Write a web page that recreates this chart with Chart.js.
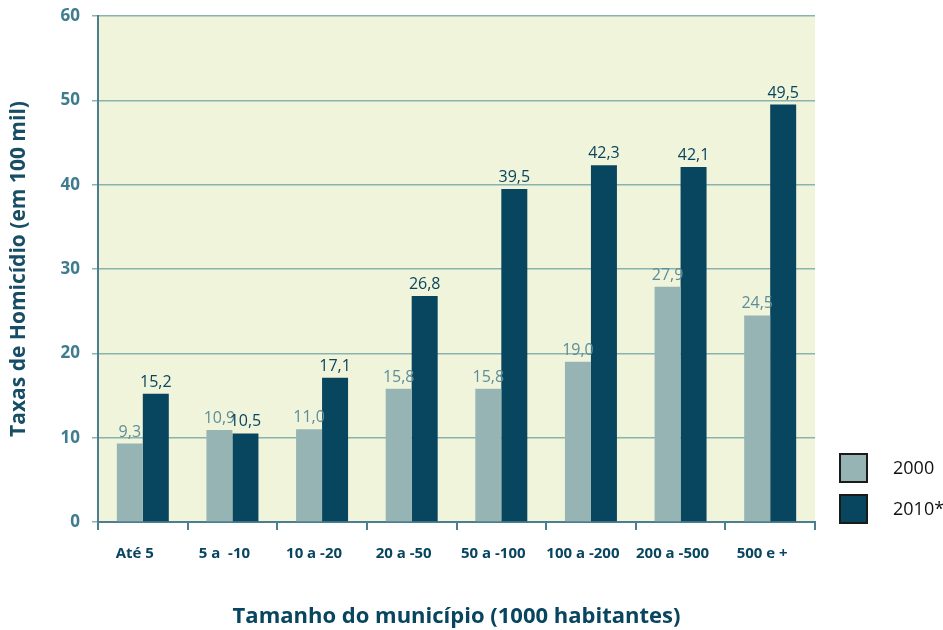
<!DOCTYPE html>
<html>
<head>
<meta charset="utf-8">
<script src="https://cdn.jsdelivr.net/npm/chart.js@4.4.1/dist/chart.umd.min.js"></script>
<style>
  html, body { margin: 0; padding: 0; background: #fff; }
  #wrap { position: relative; width: 943px; height: 630px; }
  .leg-box { position: absolute; left: 839px; width: 25px; height: 26px; border: 2px solid #1a1a1a; }
  .leg-text { position: absolute; left: 893px; font: 18px "Open Sans", sans-serif; color: #111; line-height: 20px; }
</style>
</head>
<body>
<div id="wrap">
  <canvas id="homicideChart" width="943" height="630"></canvas>
  <div class="leg-box" style="top:453px; background:#97b4b4;"></div>
  <div class="leg-text" style="top:457px;">2000</div>
  <div class="leg-box" style="top:494px; background:#08455f;"></div>
  <div class="leg-text" style="top:498px;">2010*</div>
</div>
<script>
const categories = ['Até 5', '5 a  -10', '10 a -20', '20 a -50', '50 a -100', '100 a -200', '200 a -500', '500 e +'];
const rates2000 = [9.3, 10.9, 11.0, 15.8, 15.8, 19.0, 27.9, 24.5];
const rates2010 = [15.2, 10.5, 17.1, 26.8, 39.5, 42.3, 42.1, 49.5];
const yTicks = [0, 10, 20, 30, 40, 50, 60];

const AXIS_COLOR = '#4b7f90';
const GRID_COLOR = '#8ab2ae';
const LABEL_COLORS = ['#5e8d99', '#08455f'];

// fill plot area and write the value above each bar
const barDecor = {
    id: 'barDecor',
    beforeDraw(chart) {
        const a = chart.chartArea;
        const c = chart.ctx;
        c.save();
        c.fillStyle = '#f0f4da';
        c.fillRect(a.left, a.top, a.right - a.left, a.bottom - a.top);
        c.restore();
    },
    afterDatasetsDraw(chart) {
        const c = chart.ctx;
        c.save();
        c.font = '16px "Open Sans", sans-serif';
        c.textAlign = 'center';
        c.textBaseline = 'alphabetic';
        chart.data.datasets.forEach((ds, i) => {
            c.fillStyle = LABEL_COLORS[i];
            chart.getDatasetMeta(i).data.forEach((bar, j) => {
                c.fillText(ds.data[j].toFixed(1).replace('.', ','), bar.x, bar.y - 7);
            });
        });
        c.restore();
    }
};

new Chart(document.getElementById('homicideChart'), {
    type: 'bar',
    data: {
        labels: categories,
        datasets: [
            { label: '2000', data: rates2000, backgroundColor: '#97b4b4' },
            { label: '2010*', data: rates2010, backgroundColor: '#08455f' }
        ]
    },
    options: {
        responsive: false,
        animation: false,
        layout: { padding: { left: 0, right: 128, top: 16, bottom: 0 } },
        categoryPercentage: 0.58,
        barPercentage: 1.0,
        scales: {
            x: {
                grid: {
                    offset: true,
                    drawOnChartArea: true,
                    color: ctx => ctx.index === categories.length ? AXIS_COLOR : 'rgba(0,0,0,0)',
                    lineWidth: 2,
                    tickColor: AXIS_COLOR,
                    tickLength: 8,
                    tickWidth: 2
                },
                border: { color: AXIS_COLOR, width: 2 },
                ticks: {
                    color: '#08455f',
                    font: { family: 'Open Sans', size: 15, weight: 'bold' },
                    padding: 15,
                    labelOffset: -8,
                    maxRotation: 0,
                    autoSkip: false
                },
                title: {
                    display: true,
                    text: 'Tamanho do município (1000 habitantes)',
                    color: '#08455f',
                    font: { family: 'Open Sans', size: 22, weight: 'bold' },
                    padding: { top: 30, bottom: 0 }
                },
                afterFit(scale) { scale.height = 108; }
            },
            y: {
                min: 0,
                max: 60,
                afterBuildTicks(scale) { scale.ticks = yTicks.map(v => ({ value: v })); },
                grid: {
                    color: GRID_COLOR,
                    lineWidth: 1.5,
                    tickColor: GRID_COLOR,
                    tickLength: 6
                },
                border: { color: AXIS_COLOR, width: 2 },
                ticks: {
                    color: '#3f7c8f',
                    font: { family: 'Open Sans', size: 17, weight: 'bold' },
                    padding: 12
                },
                title: {
                    display: true,
                    text: 'Taxas de Homicídio (em 100 mil)',
                    color: '#174e66',
                    font: { family: 'Open Sans', size: 21, weight: 'bold' },
                    padding: { top: 6, bottom: 0 }
                },
                afterFit(scale) {
                    scale.width = 98;
                    scale.paddingTop = 0;
                    scale.paddingBottom = 0;
                }
            }
        },
        plugins: {
            legend: { display: false },
            tooltip: { enabled: false }
        }
    },
    plugins: [barDecor]
});
</script>
</body>
</html>
